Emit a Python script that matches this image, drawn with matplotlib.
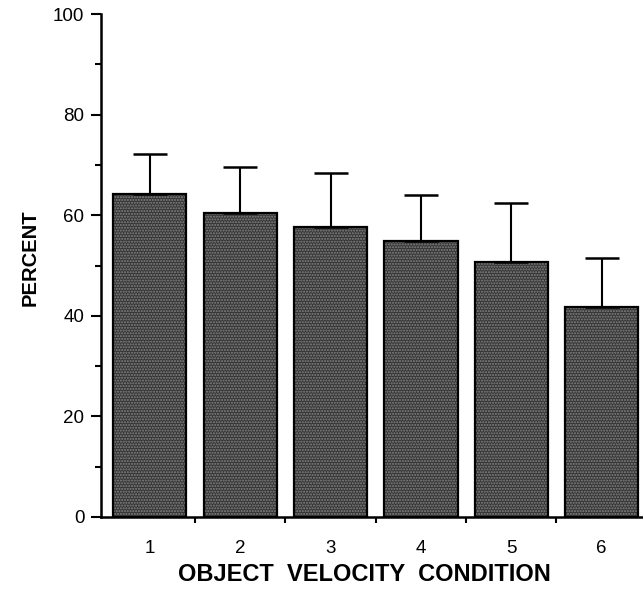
import numpy as np
import matplotlib
matplotlib.use("Agg")
import matplotlib.pyplot as plt

plt.rcParams['font.family'] = ['Liberation Sans', 'DejaVu Sans']
plt.rcParams['hatch.linewidth'] = 1.0

conditions = ["1", "2", "3", "4", "5", "6"]
percent = [64.2, 60.4, 57.7, 54.8, 50.6, 41.8]
err_upper = [8.0, 9.1, 10.8, 9.2, 11.8, 9.6]

x = np.arange(1, len(conditions) + 1)

fig = plt.figure(figsize=(6.43, 5.90), dpi=100)
ax = fig.add_axes([0.157, 0.124, 0.842, 0.852])

# stippled grey fill, then black outline on top
ax.bar(x, percent, width=0.81, color="#353535", edgecolor="#858585",
       hatch="......", linewidth=0, zorder=2)
ax.bar(x, percent, width=0.81, fill=False, edgecolor="black",
       linewidth=1.6, zorder=3)
ax.errorbar(x, percent, yerr=[np.zeros(len(x)), err_upper], fmt="none",
            ecolor="black", elinewidth=1.5, capsize=12, capthick=1.8, zorder=4)

ax.set_xlim(0.46, 6.45)
ax.set_ylim(0, 100)

ax.set_yticks([0, 20, 40, 60, 80, 100])
ax.set_yticks([10, 30, 50, 70, 90], minor=True)
ax.tick_params(axis="y", which="major", direction="out", length=7, width=1.5,
               labelsize=13.5, pad=5)
ax.tick_params(axis="y", which="minor", direction="out", length=4, width=1.5)

# x ticks sit between the bars, labels under the bar centres
ax.set_xticks(x[:-1] + 0.5)
ax.set_xticks(x, minor=True)
ax.set_xticklabels([])
ax.set_xticklabels(conditions, minor=True)
ax.tick_params(axis="x", which="major", direction="out", length=4, width=1.5)
ax.tick_params(axis="x", which="minor", length=0, labelsize=13.5, pad=17)

for side in ["top", "right"]:
    ax.spines[side].set_visible(False)
ax.spines["left"].set_linewidth(1.8)
ax.spines["bottom"].set_linewidth(1.8)

ax.set_xlabel("OBJECT  VELOCITY  CONDITION", fontsize=17, fontweight="bold")
ax.xaxis.set_label_coords(0.487, -0.092)
ax.set_ylabel("PERCENT", fontsize=14.5, fontweight="bold")
ax.yaxis.set_label_coords(-0.113, 0.515)

fig.savefig("out.png", dpi=100)
